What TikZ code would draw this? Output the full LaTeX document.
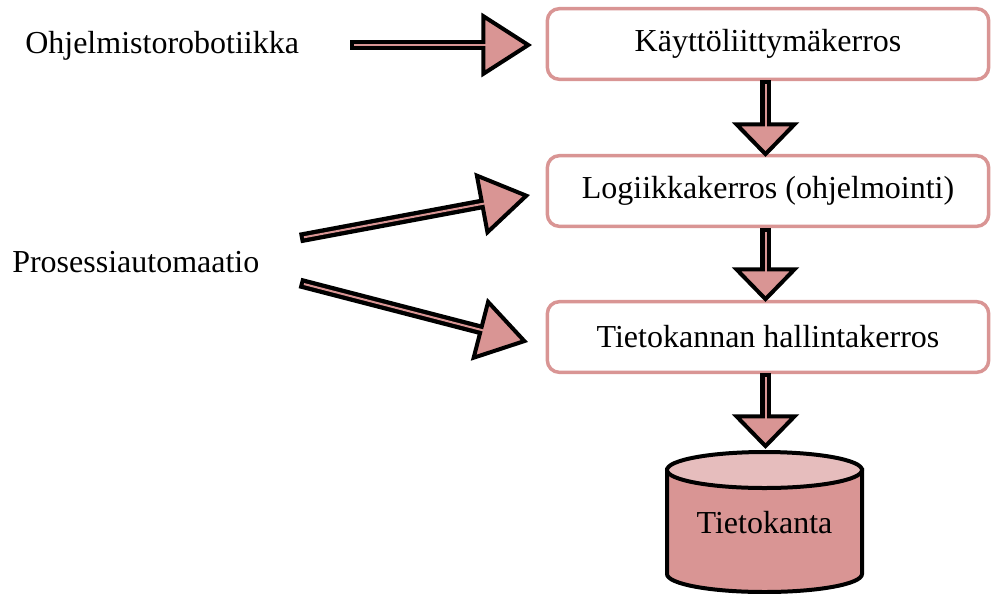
\documentclass[tikz,border=0pt]{standalone}
\usepackage{fontspec}
\setmainfont{Liberation Serif}
\usetikzlibrary{arrows.meta}
\definecolor{pinkc}{HTML}{D99594}
\definecolor{capc}{HTML}{E6BDBD}
\tikzset{
  layerbox/.style={draw=pinkc, line width=2.6pt, rounded corners=9pt, fill=white,
    minimum width=331pt, minimum height=53pt, inner sep=0pt},
  lbl/.style={inner sep=0pt, font=\fontsize{24}{28}\selectfont},
  blockarrow/.style 2 args={draw=black, line width=8pt,
    -{Triangle[length=#1, width=#2, line width=3pt, fill=pinkc]}},
  innerline/.style={draw=pinkc, line width=1.5pt, shorten <=3pt, shorten >=#1},
}
\newcommand\longarr[2]{\draw[blockarrow={38pt}{48pt}] (#1) -- (#2); \draw[innerline=33pt] (#1) -- (#2);}
\newcommand\shortarr[2]{\draw[blockarrow={26pt}{50pt}] (#1) -- (#2); \draw[innerline=21pt] (#1) -- (#2);}
\begin{document}
\begin{tikzpicture}[x=0.75pt, y=0.75pt]
\useasboundingbox (0,0) rectangle (991,-593);
% boxes
\node[layerbox, lbl] (k1) at (768,-44) {Käyttöliittymäkerros};
\node[layerbox, lbl] (l1) at (768,-191) {Logiikkakerros (ohjelmointi)};
\node[layerbox, lbl] (t1) at (768,-337) {Tietokannan hallintakerros};
% left texts
\node[lbl, anchor=base west] (ohj) at (25,-53) {Ohjelmistorobotiikka};
\node[lbl, anchor=base west] (pro) at (12,-272) {Prosessiautomaatio};
% database cylinder
\path[fill=pinkc, draw=black, line width=3pt]
  (667,-470) -- (667,-574) arc[start angle=180, end angle=360, x radius=97.5, y radius=18]
  -- (862,-470) -- cycle;
\path[fill=capc, draw=black, line width=3pt] (764.5,-470) ellipse[x radius=97.5, y radius=18];
\node[lbl] (db) at (764.5,-523) {Tietokanta};
\coordinate (dbtop) at (765.5,-449);
% arrow end points
\coordinate (a0) at (350,-45);
\coordinate (a1) at (532,-45);
\coordinate (b0) at (300,-238);
\coordinate (b1) at (530,-195);
\coordinate (c0) at (300,-283);
\coordinate (c1) at (528,-342);
\coordinate (k1s) at (765.5,-80);
\coordinate (l1n) at (765.5,-157);
\coordinate (l1s) at (765.5,-228);
\coordinate (t1n) at (765.5,-302);
\coordinate (t1s) at (765.5,-373);
% arrows
\longarr{a0}{a1}
\longarr{b0}{b1}
\longarr{c0}{c1}
\shortarr{k1s}{l1n}
\shortarr{l1s}{t1n}
\shortarr{t1s}{dbtop}
\end{tikzpicture}
\end{document}
